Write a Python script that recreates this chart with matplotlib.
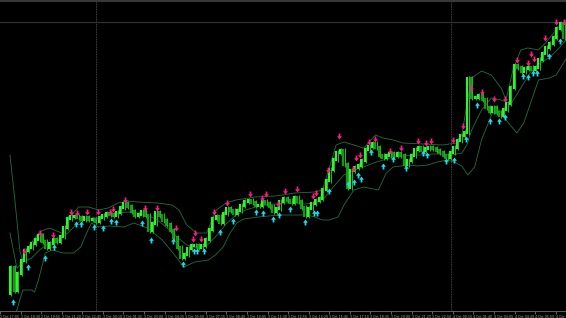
import numpy as np
import matplotlib.pyplot as plt
from matplotlib.path import Path

# chart area in pixel-like units: x = column, value = height above the bottom
W, H = 566, 318
BAR_STEP = 3.61

# close of each bar (height units), first bar opens at first_open
first_open = 25
closes = [51, 28, 45, 58, 68, 71, 75, 79, 83, 77, 71, 75, 79, 77, 82, 91, 100, 102, 102, 101,
          99, 101, 99, 99, 97, 101, 103, 105, 104, 103, 106, 111, 115, 112, 107, 103, 104, 107, 103, 88,
          95, 106, 103, 98, 94, 88, 81, 71, 61, 64, 70, 73, 73, 71, 73, 79, 89, 100, 102, 96,
          105, 110, 108, 105, 108, 113, 117, 118, 116, 113, 113, 117, 115, 112, 107, 110, 117, 120, 118, 116,
          121, 117, 111, 103, 110, 115, 118, 120, 129, 138, 149, 159, 166, 168, 154, 131, 148, 151, 153, 158,
          169, 172, 175, 171, 163, 161, 163, 165, 163, 165, 163, 154, 158, 163, 169, 171, 168, 170, 171, 170,
          168, 166, 163, 161, 166, 171, 178, 183, 186, 240, 221, 221, 223, 219, 211, 207, 211, 206, 203, 209,
          215, 231, 253, 251, 247, 250, 251, 249, 251, 259, 265, 271, 275, 281, 290, 295, 281]

# Bollinger bands
upper_x = [0, 5, 10, 13, 20, 30, 40, 50, 55, 60, 70, 80, 90, 100, 110, 120, 130, 150, 165, 172,
           180, 190, 200, 210, 220, 230, 250, 270, 290, 310, 318, 325, 332, 340, 350, 360, 365, 372, 380, 390,
           400, 420, 440, 455, 460, 465, 470, 480, 490, 500, 505, 512, 520, 527, 538, 545, 556, 566]
upper_v = [163, 118, 68, 56, 73, 86, 90, 86, 84, 100, 111, 111, 108, 110, 115, 117, 116, 115, 113, 108,
           93, 85, 85, 108, 115, 118, 121, 122, 125, 126, 128, 150, 173, 176, 173, 170, 175, 183, 180, 178,
           175, 174, 173, 175, 183, 213, 240, 247, 243, 230, 218, 248, 268, 270, 268, 275, 288, 298]

middle_x = [0, 7, 14, 22, 30, 40, 50, 60, 70, 80, 90, 100, 110, 120, 130, 140, 150, 160, 170, 180,
            190, 200, 210, 220, 230, 240, 250, 260, 270, 280, 290, 300, 310, 320, 330, 340, 350, 360, 370, 380,
            390, 400, 410, 420, 430, 440, 450, 460, 465, 470, 480, 490, 500, 510, 520, 530, 540, 550, 560, 566]
middle_v = [85, 50, 56, 60, 68, 75, 78, 86, 96, 100, 100, 102, 105, 106, 105, 103, 98, 90, 81, 73,
            70, 72, 82, 94, 103, 108, 111, 113, 114, 115, 115, 114, 115, 120, 132, 143, 148, 151, 155, 158,
            161, 162, 163, 163, 164, 164, 163, 165, 173, 188, 208, 220, 218, 214, 230, 246, 255, 261, 271, 278]

lower_x = [3, 7, 13, 22, 25, 29, 36, 43, 54, 65, 72, 78, 83, 90, 101, 116, 126, 140, 155, 166,
           177, 188, 202, 209, 217, 224, 231, 238, 253, 274, 289, 303, 310, 318, 325, 334, 340, 350, 360, 375,
           383, 390, 405, 415, 425, 435, 445, 452, 460, 466, 473, 480, 491, 498, 505, 516, 523, 531, 538, 549,
           556, 566]
lower_v = [0, 8, 28, 28, 26, 38, 65, 68, 65, 65, 71, 85, 95, 91, 92, 91, 95, 90, 78, 65,
           51, 56, 58, 63, 71, 85, 95, 99, 101, 103, 103, 103, 101, 98, 98, 101, 113, 128, 131, 128,
           145, 151, 153, 152, 153, 156, 158, 156, 152, 143, 151, 178, 205, 208, 198, 185, 195, 218, 238, 240,
           243, 259]

# signal arrows
sell_x = [14.4, 30.7, 44.0, 62.1, 68.6, 78.3, 89.5, 101.8, 104.7, 117.3, 137.2, 149.8, 168.6, 185.9, 188.1,
          194.9, 207.9, 220.9, 244.8, 256.3, 260.6, 272.6, 280.1, 291.7, 308.7, 311.6, 323.8, 335.4, 349.5,
          352.3, 356.7, 365.7, 371.8, 386.6, 397.8, 415.2, 423.1, 428.9, 450.5, 461.0, 469.0, 480.9, 492.8,
          503.6, 516.2, 527.1, 530.7, 533.6, 545.1, 556.0, 564.3]
sell_v = [67.3, 84.7, 83.0, 106.3, 105.3, 106.3, 105.7, 106.3, 108.7, 118.0, 109.7, 110.3, 90.3, 79.3, 85.3,
          78.7, 105.7, 114.7, 123.7, 119.7, 123.7, 113.7, 127.0, 128.7, 122.0, 124.7, 148.0, 182.0, 148.7,
          159.7, 163.0, 176.3, 178.7, 167.0, 170.3, 177.3, 174.7, 177.3, 178.0, 192.3, 230.3, 226.3, 218.7,
          218.7, 258.0, 255.3, 264.0, 259.0, 279.7, 296.3, 296.3]
buy_x = [2.9, 18.8, 35.4, 45.1, 66.8, 72.2, 85.6, 94.6, 102.5, 107.9, 134.3, 143.3, 165.7, 176.2, 187.0,
         190.6, 197.1, 214.1, 227.1, 250.9, 257.4, 267.9, 273.6, 285.2, 300.7, 309.7, 312.6, 324.5, 344.0,
         350.5, 353.8, 357.4, 367.9, 379.4, 390.3, 403.2, 420.6, 424.5, 444.0, 452.0, 463.9, 475.5, 488.4,
         498.2, 504.3, 522.7, 527.8, 532.5, 536.1, 549.1, 559.6]
buy_v = [16.3, 51.3, 59.7, 71.3, 93.7, 93.7, 91.3, 89.7, 97.0, 96.3, 95.3, 78.0, 77.0, 54.0, 67.0,
         67.0, 67.0, 86.3, 97.3, 106.3, 105.3, 99.0, 102.7, 108.7, 95.7, 105.3, 104.7, 127.0, 133.7,
         136.3, 142.7, 138.7, 166.3, 152.0, 158.7, 150.3, 164.7, 163.0, 157.3, 157.7, 179.0, 213.0, 197.3,
         197.3, 201.3, 242.3, 240.7, 244.7, 244.7, 262.0, 277.0]

time_labels = ["2 Oct 17:05", "2 Oct 18:30", "2 Oct 19:55", "2 Oct 21:20", "2 Oct 22:45",
               "3 Oct 00:10", "3 Oct 01:35", "3 Oct 03:00", "3 Oct 04:25", "3 Oct 05:50",
               "3 Oct 07:15", "3 Oct 08:40", "3 Oct 10:05", "3 Oct 11:30", "3 Oct 12:55",
               "3 Oct 14:20", "3 Oct 15:45", "3 Oct 17:10", "3 Oct 18:35", "3 Oct 20:00",
               "3 Oct 21:25", "3 Oct 22:50", "4 Oct 00:15", "4 Oct 01:40", "4 Oct 03:05",
               "4 Oct 04:30", "4 Oct 05:55", "4 Oct 07:20"]
day_breaks = [88, 449]
bid_level = 296.3

# marker shapes
down_arrow = Path([(-0.3, 1.0), (0.3, 1.0), (0.3, 0.1), (0.8, 0.1), (0.0, -1.0),
                   (-0.8, 0.1), (-0.3, 0.1), (-0.3, 1.0)],
                  [Path.MOVETO] + [Path.LINETO] * 6 + [Path.CLOSEPOLY])
up_arrow = Path([(x, -y) for x, y in down_arrow.vertices], down_arrow.codes)

fig = plt.figure(figsize=(W / 100, H / 100), dpi=100, facecolor='black')
ax = fig.add_axes([0, 7 / H, 1, 310 / H], facecolor='black')
ax.set_xlim(0, W)
ax.set_ylim(7, 317)

for x in day_breaks:
    ax.axvline(x, color='#5e5e5e', lw=0.6, ls=(0, (1, 1)), zorder=1)
ax.axhline(bid_level, color='#2c3236', lw=0.9, zorder=1)

for bx, bv in [(upper_x, upper_v), (middle_x, middle_v), (lower_x, lower_v)]:
    ax.plot(bx, bv, color='#226f3f', lw=0.6, zorder=2)

closes = np.array(closes, dtype=float)
opens = np.r_[first_open, closes[:-1]]
xs = np.arange(len(closes)) * BAR_STEP
top = np.maximum(opens, closes)
bot = np.minimum(opens, closes)
up = closes >= opens
ax.vlines(xs + 1.4, bot - 2.5, top + 2.5, color='#1fb81f', lw=0.8, zorder=3)
ax.vlines(xs[up], bot[up] - 1.5, top[up] + 1.5, color='#33f033', lw=1.5, zorder=4)
ax.vlines(xs[~up], bot[~up] - 1.5, top[~up] + 1.5, color='#129a12', lw=1.5, zorder=4)

ax.plot(sell_x, sell_v, ls='none', marker=down_arrow, ms=4.3, color='#ff1a86',
        mew=0, zorder=5)
ax.plot(buy_x, buy_v, ls='none', marker=up_arrow, ms=4.3, color='#22d8f0',
        mew=0, zorder=5)

tick_pos = 10.8 + 20.95 * np.arange(-1, len(time_labels) - 1)
ax.set_xticks(tick_pos, time_labels)
for lbl in ax.get_xticklabels():
    lbl.set_horizontalalignment('left')
ax.tick_params(axis='x', colors='#8a8a8a', labelcolor='#b0b0b0', labelsize=2.3,
               length=2, width=0.5, pad=0.8, direction='out')
ax.set_yticks([])
for side in ['left', 'right']:
    ax.spines[side].set_visible(False)
ax.spines['bottom'].set_color('#707070')
ax.spines['bottom'].set_linewidth(0.6)
ax.spines['top'].set_color('#383838')
ax.spines['top'].set_linewidth(1.5)

fig.savefig('out.png', dpi=100, facecolor='black')
